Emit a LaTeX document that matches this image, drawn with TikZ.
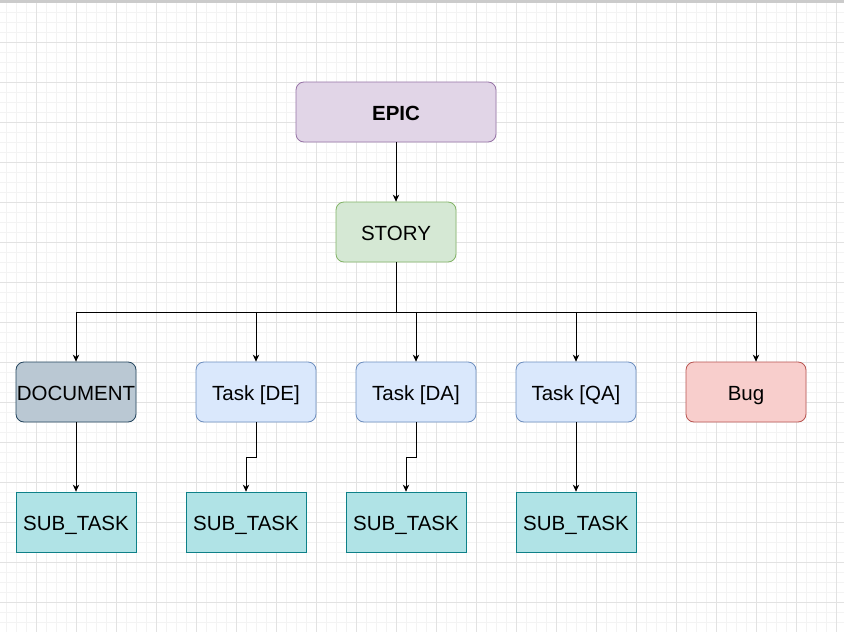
\documentclass[tikz,border=0pt]{standalone}
\usepackage{fontspec}
\setmainfont{Liberation Sans}
\usetikzlibrary{arrows.meta}

\definecolor{gridminor}{HTML}{F3F3F3}
\definecolor{gridmajor}{HTML}{E2E2E2}
\definecolor{epicfill}{HTML}{E1D5E7}
\definecolor{epicline}{HTML}{9673A6}
\definecolor{storyfill}{HTML}{D5E8D4}
\definecolor{storyline}{HTML}{82B366}
\definecolor{docfill}{HTML}{BAC8D3}
\definecolor{docline}{HTML}{23445D}
\definecolor{taskfill}{HTML}{DAE8FC}
\definecolor{taskline}{HTML}{6C8EBF}
\definecolor{bugfill}{HTML}{F8CECC}
\definecolor{bugline}{HTML}{B85450}
\definecolor{subfill}{HTML}{B0E3E6}
\definecolor{subline}{HTML}{0E8088}

\tikzset{
  card/.style={draw, rounded corners=8pt, minimum width=120pt, minimum height=60pt,
    inner sep=0pt, text height=17pt, text depth=1pt, line width=0.8pt,
    font=\fontsize{20.5}{24}\selectfont},
  epicbox/.style={card, fill=epicfill, draw=epicline, minimum width=200pt,
    font=\fontsize{20.5}{24}\selectfont\bfseries},
  storybox/.style={card, fill=storyfill, draw=storyline},
  docbox/.style={card, fill=docfill, draw=docline},
  taskbox/.style={card, fill=taskfill, draw=taskline},
  bugbox/.style={card, fill=bugfill, draw=bugline},
  subbox/.style={card, sharp corners, fill=subfill, draw=subline},
  link/.style={-{Stealth[length=7pt,width=6.5pt]}, line width=0.8pt}
}

\begin{document}
\begin{tikzpicture}[x=1pt,y=-1pt]
\useasboundingbox (0,0) rectangle (844,632);
% Background grid
\fill[white] (0,0) rectangle (844,632);
\foreach \x in {6,16,...,844} \draw[gridminor,line width=0.8pt] (\x,0) -- (\x,632);
\foreach \y in {2,12,...,632} \draw[gridminor,line width=0.8pt] (0,\y) -- (844,\y);
\foreach \x in {36,76,...,844} \draw[gridmajor,line width=0.8pt] (\x,0) -- (\x,632);
\foreach \y in {2,42,...,632} \draw[gridmajor,line width=0.8pt] (0,\y) -- (844,\y);
\fill[gridmajor!90!black] (0,0) rectangle (844,2.5);
% Top levels
\node[epicbox] (epic) at (396,112) {EPIC};
\node[storybox] (story) at (396,232) {STORY};
% Children of the story
\node[docbox] (doc) at (76,392) {DOCUMENT};
\node[taskbox] (de) at (256,392) {Task [DE]};
\node[taskbox] (da) at (416,392) {Task [DA]};
\node[taskbox] (qa) at (576,392) {Task [QA]};
\node[bugbox] (bug) at (746,392) {Bug};
% Sub-tasks
\node[subbox] (sub1) at (76,522) {SUB\_TASK};
\node[subbox] (sub2) at (246,522) {SUB\_TASK};
\node[subbox] (sub3) at (406,522) {SUB\_TASK};
\node[subbox] (sub4) at (576,522) {SUB\_TASK};
% Connectors
\coordinate (bus) at (396,312);
\coordinate (bugin) at ([xshift=10pt]bug.north);
\draw[link] (epic) -- (story);
\foreach \c in {doc.north,de.north,da.north,qa.north,bugin}
  \draw[link] (story.south) -- (bus) -| (\c);
\draw[link] (doc) -- (sub1);
\draw[link] (de.south) -- ++(0,35) -| (sub2.north);
\draw[link] (da.south) -- ++(0,35) -| (sub3.north);
\draw[link] (qa) -- (sub4);
\end{tikzpicture}
\end{document}
